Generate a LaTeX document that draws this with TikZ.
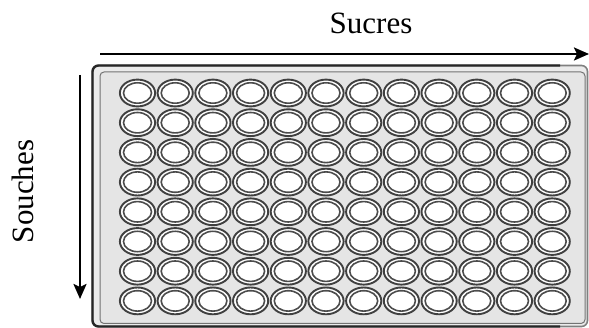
\documentclass[tikz,border=0pt]{standalone}
\usepackage{fontspec}
\setmainfont{Liberation Serif}
\usetikzlibrary{arrows.meta}
\begin{document}
\begin{tikzpicture}[x=1pt,y=-1pt,
  axisarrow/.style={line width=2.4pt,-{Stealth[length=15pt,width=13pt,inset=3pt]}},
  wellout/.style={draw=black!75,line width=1.9pt,fill=white},
  wellin/.style={draw=black!70,line width=1.6pt,fill=white},
  lbl/.style={font=\fontsize{31}{31}\selectfont,inner sep=0pt}]
\useasboundingbox (0,0) rectangle (589,328);
% plate
\draw[draw=black!50,line width=1.6pt,fill=black!8,rounded corners=6pt] (92.5,65.5) rectangle (587.5,326.5);
\draw[draw=black!85,line width=2.4pt,rounded corners=6pt] (560,65.5) -- (92.5,65.5) -- (92.5,326.5) -- (560,326.5);
\draw[draw=black!55,line width=1pt,fill=black!10,rounded corners=4pt] (100,72) rectangle (585,323.5);
% wells
\foreach \i in {0,...,11}{
  \foreach \j in {0,...,7}{
    \pgfmathsetmacro{\cx}{137.5+37.7*\i}
    \pgfmathsetmacro{\cy}{93+29.7*\j}
    \draw[wellout] (\cx,\cy) ellipse [x radius=17.6pt,y radius=13.4pt];
    \draw[wellin] (\cx,\cy) ellipse [x radius=14pt,y radius=10.2pt];
  }
}
% arrows
\coordinate (hs) at (100,54);
\coordinate (he) at (589,54);
\coordinate (vs) at (80,75);
\coordinate (ve) at (80,299);
\draw[axisarrow] (hs) -- (he);
\draw[axisarrow] (vs) -- (ve);
% labels
\node[lbl,anchor=base] (sucres) at (371,34) {Sucres};
\node[lbl,anchor=base,rotate=90] (souches) at (33,191.5) {Souches};
\end{tikzpicture}
\end{document}
